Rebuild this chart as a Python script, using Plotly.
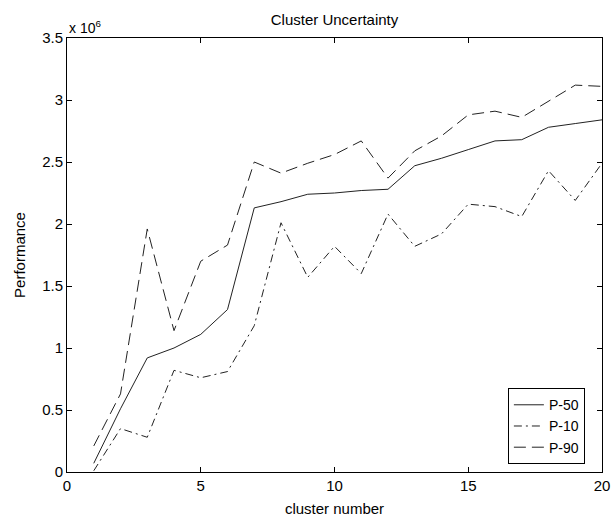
import plotly.graph_objects as go

# Cluster uncertainty: performance (in units of 10^6) per cluster number
clusters = list(range(1, 21))
p50 = [0.07, 0.51, 0.92, 1.00, 1.11, 1.31, 2.13, 2.18, 2.24, 2.25,
       2.27, 2.28, 2.47, 2.53, 2.60, 2.67, 2.68, 2.78, 2.81, 2.84]
p10 = [0.01, 0.35, 0.28, 0.82, 0.76, 0.81, 1.18, 2.01, 1.57, 1.82,
       1.60, 2.08, 1.82, 1.92, 2.16, 2.14, 2.06, 2.43, 2.19, 2.49]
p90 = [0.21, 0.63, 1.96, 1.14, 1.70, 1.83, 2.50, 2.41, 2.49, 2.56,
       2.67, 2.37, 2.59, 2.71, 2.88, 2.91, 2.86, 2.99, 3.12, 3.11]

x_ticks = [0, 5, 10, 15, 20]
y_ticks = [0, 0.5, 1, 1.5, 2, 2.5, 3, 3.5]
y_tick_text = ["0", "0.5", "1", "1.5", "2", "2.5", "3", "3.5"]

FONT = "Liberation Sans, Arial, sans-serif"
LINE = "#222222"
FS = 15

fig = go.Figure()
fig.add_trace(go.Scatter(x=clusters, y=p50, mode="lines", name="P-50",
                         line=dict(color=LINE, width=1, dash="solid")))
fig.add_trace(go.Scatter(x=clusters, y=p10, mode="lines", name="P-10",
                         line=dict(color=LINE, width=1, dash="8px,4px,2px,4px")))
fig.add_trace(go.Scatter(x=clusters, y=p90, mode="lines", name="P-90",
                         line=dict(color=LINE, width=1, dash="12px,6px")))

axis_common = dict(
    showgrid=False, zeroline=False, showline=True, linecolor="black",
    linewidth=1, mirror="ticks", ticks="inside", ticklen=5, tickcolor="black",
    tickfont=dict(family=FONT, size=FS, color="black"), automargin=False,
)

fig.update_layout(
    width=611, height=518,
    margin=dict(l=67, r=9, t=38, b=46),
    paper_bgcolor="white", plot_bgcolor="white",
    font=dict(family=FONT, size=FS, color="black"),
    title=dict(text="Cluster Uncertainty", x=0.5, xanchor="center",
               xref="paper", y=1 - 20 / 518, yanchor="middle",
               font=dict(family=FONT, size=FS, color="black")),
    xaxis=dict(range=[0, 20], tickvals=x_ticks,
               title=dict(text="cluster number", standoff=10,
                          font=dict(family=FONT, size=FS)),
               **axis_common),
    yaxis=dict(range=[0, 3.5], tickvals=y_ticks, ticktext=y_tick_text,
               title=dict(text="Performance", standoff=12,
                          font=dict(family=FONT, size=FS)),
               **axis_common),
    legend=dict(x=0.968, xanchor="right", y=0.018, yanchor="bottom",
                bgcolor="white", bordercolor="black", borderwidth=1,
                font=dict(family=FONT, size=14, color="black"),
                tracegroupgap=0, itemwidth=30),
    showlegend=True,
)

fig.add_annotation(text="x 10<sup>6</sup>", xref="paper", yref="paper",
                   x=0.0, y=1.0, xanchor="left", yanchor="bottom",
                   showarrow=False, yshift=0,
                   font=dict(family=FONT, size=14, color="black"))

fig.write_html("out.html")
